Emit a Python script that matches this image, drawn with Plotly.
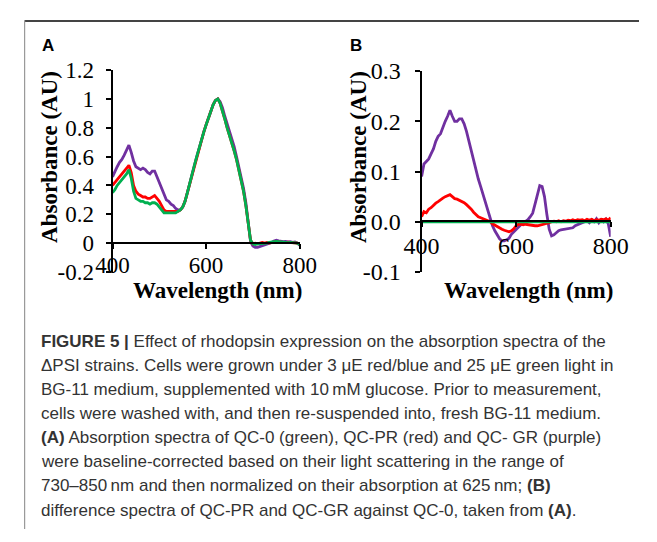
import plotly.graph_objects as go

W, H = 657, 542

# ---------------- data ----------------
wl = [400, 405, 410, 415, 420, 425, 430, 435, 440, 445, 450, 455, 460, 465, 470, 475,
      480, 485, 490, 495, 500, 505, 510, 515, 520, 525, 530, 535, 540, 545, 550, 555,
      560, 565, 570, 575, 580, 585, 590, 595, 600, 605, 610, 615, 620, 625, 630, 635,
      640, 645, 650, 655, 660, 665, 670, 675, 680, 685, 690, 695, 700, 705, 710, 715,
      720, 725, 730, 735, 740, 745, 750, 755, 760, 765, 770, 775, 780, 785, 790, 795, 800]

# Panel A: normalized absorption spectra
a_qc0 = [0.35, 0.37, 0.40, 0.42, 0.44, 0.46, 0.48, 0.51, 0.45, 0.36, 0.31, 0.30, 0.29, 0.29, 0.28, 0.28,
         0.27, 0.28, 0.28, 0.27, 0.25, 0.23, 0.21, 0.21, 0.21, 0.21, 0.21, 0.21, 0.22, 0.23, 0.25, 0.29,
         0.35, 0.42, 0.48, 0.54, 0.60, 0.66, 0.72, 0.77, 0.82, 0.87, 0.92, 0.96, 0.99, 1.00, 0.97, 0.92,
         0.86, 0.80, 0.75, 0.70, 0.64, 0.58, 0.51, 0.43, 0.36, 0.26, 0.12, 0.02, -0.005, -0.01, -0.005, -0.005,
         0.0, -0.005, 0.0, 0.005, 0.01, 0.01, 0.012, 0.01, 0.008, 0.005, 0.006, 0.004, 0.005, 0.003, 0.004, 0.0, -0.01]
a_qcpr = [0.40, 0.42, 0.44, 0.46, 0.48, 0.50, 0.52, 0.54, 0.49, 0.40, 0.36, 0.34, 0.33, 0.32, 0.32, 0.31,
          0.31, 0.32, 0.33, 0.31, 0.29, 0.26, 0.23, 0.22, 0.22, 0.22, 0.22, 0.22, 0.22, 0.23, 0.25, 0.29,
          0.35, 0.42, 0.48, 0.54, 0.60, 0.66, 0.72, 0.77, 0.82, 0.87, 0.92, 0.96, 0.99, 1.00, 0.97, 0.92,
          0.86, 0.80, 0.75, 0.70, 0.64, 0.58, 0.51, 0.43, 0.36, 0.26, 0.12, 0.02, -0.005, 0.0, -0.005, 0.0,
          0.005, 0.0, 0.005, 0.0, 0.005, 0.01, 0.01, 0.008, 0.006, 0.005, 0.004, 0.006, 0.004, 0.002, 0.004, 0.0, -0.008]
a_qcgr = [0.46, 0.50, 0.53, 0.56, 0.58, 0.61, 0.64, 0.68, 0.63, 0.57, 0.53, 0.52, 0.51, 0.52, 0.51, 0.49,
          0.48, 0.50, 0.50, 0.46, 0.42, 0.38, 0.33, 0.30, 0.29, 0.27, 0.26, 0.24, 0.23, 0.23, 0.25, 0.29,
          0.35, 0.42, 0.48, 0.54, 0.60, 0.66, 0.72, 0.77, 0.82, 0.87, 0.92, 0.96, 0.99, 1.00, 0.98, 0.94,
          0.88, 0.83, 0.78, 0.73, 0.67, 0.60, 0.53, 0.45, 0.38, 0.28, 0.13, 0.01, -0.02, -0.03, -0.03, -0.025,
          -0.015, -0.01, -0.005, 0.0, 0.005, 0.015, 0.02, 0.015, 0.01, 0.01, 0.012, 0.008, 0.01, 0.005, 0.008, 0.0, -0.015]

# Panel B: difference spectra against QC-0
b_qcpr = [0.01, 0.02, 0.018, 0.025, 0.028, 0.033, 0.037, 0.04, 0.044, 0.047, 0.05, 0.052, 0.054, 0.05, 0.046, 0.045,
          0.043, 0.04, 0.038, 0.034, 0.03, 0.025, 0.019, 0.014, 0.01, 0.008, 0.006, 0.004, 0.002, 0.0, -0.004, -0.007,
          -0.01, -0.012, -0.015, -0.017, -0.019, -0.02, -0.018, -0.014, -0.008, -0.005, -0.005, -0.006, -0.005, -0.006, -0.007, -0.007,
          -0.008, -0.008, -0.007, -0.006, -0.005, -0.003, -0.002, 0.0, 0.001, 0.0, 0.002, 0.0, 0.002, 0.001, 0.003, 0.002,
          0.004, 0.002, 0.004, 0.003, 0.004, 0.002, 0.005, 0.003, 0.005, 0.002, 0.004, 0.003, 0.005, 0.004, 0.006, 0.003, 0.008]
b_qcgr = [0.09, 0.115, 0.12, 0.125, 0.135, 0.145, 0.16, 0.17, 0.175, 0.19, 0.20, 0.21, 0.222, 0.21, 0.20, 0.20,
          0.205, 0.205, 0.195, 0.18, 0.16, 0.14, 0.12, 0.105, 0.085, 0.07, 0.055, 0.04, 0.02, 0.005, -0.008, -0.018,
          -0.026, -0.034, -0.038, -0.038, -0.036, -0.033, -0.025, -0.02, -0.015, -0.01, -0.006, -0.003, 0.0, 0.004, 0.01, 0.017,
          0.035, 0.055, 0.072, 0.07, 0.05, 0.015, -0.015, -0.028, -0.026, -0.022, -0.018, -0.016, -0.015, -0.015, -0.013, -0.012,
          -0.012, -0.008, -0.006, -0.004, -0.002, 0.0, 0.002, -0.002, 0.004, 0.0, 0.006, -0.002, 0.004, 0.0, 0.005, -0.004, -0.03]
b_qc0_wl = [400, 800]
b_qc0 = [0.0, 0.0]

a_xticks = [400, 600, 800]
a_yticks = [-0.2, 0, 0.2, 0.4, 0.6, 0.8, 1, 1.2]
a_yticktext = ["-0.2", "0", "0.2", "0.4", "0.6", "0.8", "1", "1.2"]
b_xticks = [400, 600, 800]
b_yticks = [-0.1, 0.0, 0.1, 0.2, 0.3]
b_yticktext = ["-0.1", "0.0", "0.1", "0.2", "0.3"]

caption_lines = [
    "<b>FIGURE 5 |</b> Effect of rhodopsin expression on the absorption spectra of the",
    "\u0394PSI strains. Cells were grown under 3 \u03bcE red/blue and 25 \u03bcE green light in",
    "BG-11 medium, supplemented with 10\u2009mM glucose. Prior to measurement,",
    "cells were washed with, and then re-suspended into, fresh BG-11 medium.",
    "<b>(A)</b> Absorption spectra of QC-0 (green), QC-PR (red) and QC- GR (purple)",
    "were baseline-corrected based on their light scattering in the range of",
    "730\u2013850\u2009nm and then normalized on their absorption at 625\u2009nm; <b>(B)</b>",
    "difference spectra of QC-PR and QC-GR against QC-0, taken from <b>(A)</b>.",
]

PURPLE = "#7030A0"
RED = "#FF0000"
GREEN = "#00B050"


def px(x):
    return x / W


def py(y):
    return 1 - y / H


fig = go.Figure()
lw = 2.8
# Panel A
fig.add_trace(go.Scatter(x=wl, y=a_qcgr, mode="lines", line=dict(color=PURPLE, width=lw), xaxis="x", yaxis="y"))
fig.add_trace(go.Scatter(x=wl, y=a_qcpr, mode="lines", line=dict(color=RED, width=lw), xaxis="x", yaxis="y"))
fig.add_trace(go.Scatter(x=wl, y=a_qc0, mode="lines", line=dict(color=GREEN, width=lw), xaxis="x", yaxis="y"))
# Panel B
fig.add_trace(go.Scatter(x=wl, y=b_qcgr, mode="lines", line=dict(color=PURPLE, width=lw), xaxis="x2", yaxis="y2"))
fig.add_trace(go.Scatter(x=wl, y=b_qcpr, mode="lines", line=dict(color=RED, width=lw), xaxis="x2", yaxis="y2"))
fig.add_trace(go.Scatter(x=b_qc0_wl, y=b_qc0, mode="lines", line=dict(color=GREEN, width=lw), xaxis="x2", yaxis="y2"))

serif = "Liberation Serif, Times New Roman, serif"
axis_common = dict(showgrid=False, zeroline=False, showline=True, linecolor="black", linewidth=2,
                   ticks="outside", ticklen=5, tickwidth=2, tickcolor="black")

fig.update_layout(
    width=W, height=H, margin=dict(l=0, r=0, t=0, b=0),
    paper_bgcolor="white", plot_bgcolor="rgba(0,0,0,0)", showlegend=False,
    xaxis=dict(domain=[px(100), px(298)], range=[400, 800], anchor="free", position=py(242),
               tickvals=a_xticks, tickfont=dict(family=serif, size=23, color="black"),
               ticklabelstandoff=-4, **axis_common),
    yaxis=dict(domain=[py(272), py(60)], range=[-0.2, 1.2], anchor="x",
               tickvals=a_yticks, ticktext=a_yticktext,
               tickfont=dict(family=serif, size=23, color="black"), ticklabelstandoff=7, **axis_common),
    xaxis2=dict(domain=[px(427), px(627)], range=[400, 800], anchor="free", position=py(219),
                tickvals=b_xticks, tickfont=dict(family=serif, size=24, color="black"),
                ticklabelstandoff=-2, **axis_common),
    yaxis2=dict(domain=[py(272), py(61)], range=[-0.1, 0.3], anchor="x2",
                tickvals=b_yticks, ticktext=b_yticktext,
                tickfont=dict(family=serif, size=24, color="black"), ticklabelstandoff=9, **axis_common),
)

ann = []
title_font = dict(family=serif, size=23, color="black")
ann.append(dict(text="<b>Wavelength (nm)</b>", x=px(211), y=py(291), xref="paper", yref="paper",
                showarrow=False, xanchor="center", yanchor="middle", font=title_font))
ann.append(dict(text="<b>Wavelength (nm)</b>", x=px(540), y=py(291), xref="paper", yref="paper",
                showarrow=False, xanchor="center", yanchor="middle", font=title_font))
ann.append(dict(text="<b>Absorbance (AU)</b>", x=px(34), y=py(151), xref="paper", yref="paper",
                showarrow=False, xanchor="center", yanchor="middle", textangle=-90, font=title_font))
ann.append(dict(text="<b>Absorbance (AU)</b>", x=px(360), y=py(151), xref="paper", yref="paper",
                showarrow=False, xanchor="center", yanchor="middle", textangle=-90, font=title_font))
label_font = dict(family="Liberation Sans, Arial, sans-serif", size=17, color="black")
ann.append(dict(text="<b>A</b>", x=px(31.5), y=py(34), xref="paper", yref="paper",
                showarrow=False, xanchor="center", yanchor="middle", font=label_font))
ann.append(dict(text="<b>B</b>", x=px(357.5), y=py(34), xref="paper", yref="paper",
                showarrow=False, xanchor="center", yanchor="middle", font=label_font))

cap_y0, cap_dy = 345, 25.3
for i, line in enumerate(caption_lines):
    ann.append(dict(text=line, x=px(22), y=py(cap_y0 + i * cap_dy), xref="paper", yref="paper",
                    showarrow=False, xanchor="left", yanchor="middle",
                    font=dict(family="Liberation Sans, Arial, sans-serif", size=17, color="#333333")))
fig.update_layout(annotations=ann)

fig.update_layout(shapes=[
    dict(type="line", xref="paper", yref="paper", x0=px(7), x1=1, y0=py(8.5), y1=py(8.5),
         line=dict(color="#444444", width=2)),
    dict(type="line", xref="paper", yref="paper", x0=px(7), x1=px(7), y0=py(8), y1=0,
         line=dict(color="#999999", width=1.2)),
])

fig.write_html("out.html")
